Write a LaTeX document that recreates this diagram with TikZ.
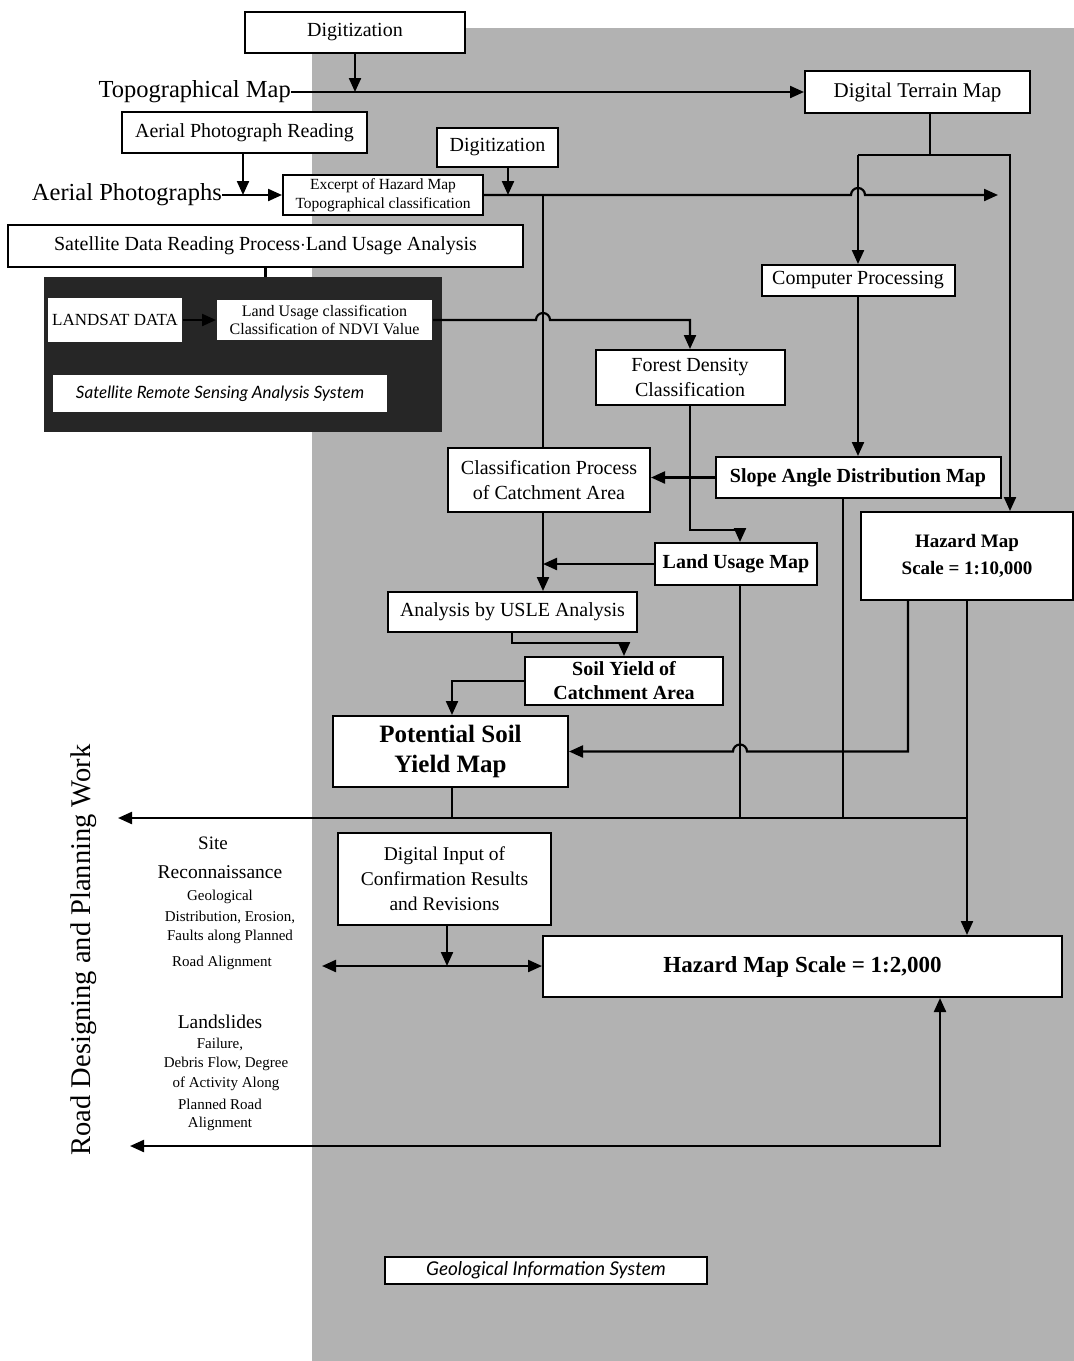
\documentclass[tikz,border=0pt]{standalone}
\usepackage{fontspec}
\setmainfont{Liberation Serif}
\newfontfamily\sansit{Lato}
\usetikzlibrary{arrows.meta}
\newcommand\fsz[2]{\fontsize{#1pt}{#2pt}\selectfont}
\begin{document}
\begin{tikzpicture}[x=1pt,y=-1pt,
  box/.style={draw, fill=white, line width=2pt, align=center, inner sep=1pt},
  ln/.style={line width=2.2pt},
  arr/.style={line width=2.2pt, -{Triangle[length=14pt,width=12pt]}},
  arrb/.style={line width=2.2pt, {Triangle[length=14pt,width=12pt]}-{Triangle[length=14pt,width=12pt]}},
  arrs/.style={line width=2.2pt, {Triangle[length=14pt,width=12pt]}-},
  lbl/.style={inner sep=0pt, align=center}]
\useasboundingbox (0,0) rectangle (1074,1361);
\fill[white] (0,0) rectangle (1074,1361);
% gray GIS background
\fill[black!30] (312,28) rectangle (1074,1361);
% black satellite system box
\fill[black!85] (44,277) rectangle (442,432);

% nodes
\node[box, minimum width=220pt, minimum height=41pt, font=\fsz{20}{24}] (dig1) at (355,32.5) {Digitization};
\node[lbl, anchor=east, font=\fsz{24.5}{28}] (topo) at (291,92) {Topographical Map};
\node[box, minimum width=225pt, minimum height=42pt, font=\fsz{21}{24}] (dtm) at (917.5,92) {Digital Terrain Map};
\node[box, minimum width=245pt, minimum height=41pt, font=\fsz{20}{24}] (apr) at (244.5,132.5) {Aerial Photograph Reading};
\node[lbl, anchor=east, font=\fsz{24.5}{28}] (aph) at (222,195) {Aerial Photographs};
\node[box, minimum width=200pt, minimum height=40pt, font=\fsz{15.5}{18.5}] (exc) at (383,195) {Excerpt of Hazard Map\\Topographical classification};
\node[box, minimum width=121pt, minimum height=39pt, font=\fsz{20}{24}] (dig2) at (497.5,147.5) {Digitization};
\node[box, minimum width=515pt, minimum height=42pt, font=\fsz{20}{24}] (sat) at (265.5,246) {Satellite Data Reading Process$\cdot$Land Usage Analysis};
\node[box, draw=none, minimum width=134pt, minimum height=44pt, font=\fsz{17}{20}] (landsat) at (115,320) {LANDSAT DATA};
\node[box, draw=none, minimum width=215pt, minimum height=40pt, font=\fsz{16}{18}] (luc) at (324.5,320) {Land Usage classification\\Classification of NDVI Value};
\node[box, draw=none, minimum width=334pt, minimum height=37pt, font=\sansit\itshape\fsz{17}{20}] (srs) at (220,393.5) {Satellite Remote Sensing Analysis System};
\node[box, minimum width=193pt, minimum height=31pt, font=\fsz{20}{24}] (cp) at (858,280.5) {Computer Processing};
\node[box, minimum width=189pt, minimum height=55pt, font=\fsz{20}{25}] (fdc) at (690,377.5) {Forest Density\\Classification};
\node[box, minimum width=202pt, minimum height=64pt, font=\fsz{20}{25}] (cpc) at (549,480) {Classification Process\\of Catchment Area};
\node[box, minimum width=285pt, minimum height=41pt, font=\fsz{20}{24}\bfseries] (sadm) at (858,477.5) {Slope Angle Distribution Map};
\node[box, minimum width=162pt, minimum height=42pt, font=\fsz{20}{24}\bfseries] (lum) at (736,564) {Land Usage Map};
\node[box, minimum width=249pt, minimum height=40pt, font=\fsz{20}{24}] (usle) at (512.5,612) {Analysis by USLE Analysis};
\node[box, minimum width=198pt, minimum height=48pt, font=\fsz{20}{24}\bfseries] (sy) at (624,681) {Soil Yield of\\Catchment Area};
\node[box, minimum width=235pt, minimum height=71pt, font=\fsz{25}{30}\bfseries] (psy) at (450.5,751.5) {Potential Soil\\Yield Map};
\node[box, minimum width=212pt, minimum height=88pt, font=\fsz{19}{27}\bfseries] (hm10) at (967,556) {Hazard Map\\Scale = 1:10,000};
\node[box, minimum width=213pt, minimum height=92pt, font=\fsz{19.5}{25}] (dicr) at (444.5,879) {Digital Input of\\Confirmation Results\\and Revisions};
\node[box, minimum width=519pt, minimum height=61pt, font=\fsz{23}{26}\bfseries] (hm2) at (802.5,966.5) {Hazard Map Scale = 1:2,000};
\node[box, line width=1.4pt, minimum width=322pt, minimum height=27pt, font=\sansit\itshape\fsz{19}{22}] (gis) at (546,1270.5) {Geological Information System};

% left labels
\node[lbl, font=\fsz{19}{22}] (s1) at (213,843) {Site};
\node[lbl, font=\fsz{19.5}{22}] (s2) at (220,872) {Reconnaissance};
\node[lbl, font=\fsz{15}{18}] (s3) at (220,897) {Geological};
\node[lbl, font=\fsz{15}{18}] (s4) at (230,917) {Distribution, Erosion,};
\node[lbl, font=\fsz{15}{18}] (s5) at (230,937) {Faults along Planned};
\node[lbl, font=\fsz{15}{18}] (s6) at (222,963) {Road Alignment};
\node[lbl, font=\fsz{19.5}{22}] (l1) at (220,1022) {Landslides};
\node[lbl, font=\fsz{15}{18}] (l2) at (220,1044) {Failure,};
\node[lbl, font=\fsz{15}{18}] (l3) at (226,1064) {Debris Flow, Degree};
\node[lbl, font=\fsz{15}{18}] (l4) at (226,1084) {of Activity Along};
\node[lbl, font=\fsz{15}{18}] (l5) at (220,1104) {Planned Road};
\node[lbl, font=\fsz{15}{18}] (l6) at (220,1124) {Alignment};
\node[lbl, rotate=90, font=\fsz{28.5}{32}] (road) at (84,950) {Road Designing and Planning Work};

% named free ends and bends
\coordinate (b1) at (930,155);
\coordinate (v1) at (543,195);
\coordinate (e1) at (998,195);
\coordinate (r1) at (1010,155);
\coordinate (bl) at (967,818);
\coordinate (bl0) at (118,818);
\coordinate (da) at (322,966);
\coordinate (bb) at (940,1146);
\coordinate (bb0) at (130,1146);
\coordinate (fk) at (690,530);
\coordinate (lk) at (740,530);
\coordinate (lb) at (740,818);
\coordinate (sb) at (843,818);
\coordinate (pb) at (452,818);
\coordinate (pk) at (452,681);
\coordinate (u1) at (512,643);
\coordinate (u2) at (624,643);
\coordinate (hk) at (908,751.5);
\coordinate (hh) at (733,751.5);
\coordinate (st) at (265.5,277);

% connectors
\draw[arr] (topo.east) -- (dtm.west);
\draw[arr] (dig1.south) -- (dig1.south |- dtm.west);
\draw[arr] (aph.east) -- (exc.west);
\draw[arr] ([xshift=-1.5pt]apr.south) -- ([xshift=-1.5pt]apr.south |- exc.west);
\draw[arr] ([xshift=10.5pt]dig2.south) -- ([xshift=10.5pt]dig2.south |- exc.east);
\draw[arr] (exc.east) -- ([xshift=-7pt]cp.north |- exc.east) arc[start angle=180,end angle=0,radius=7pt] -- (e1);
\draw[ln] (dtm.south -| b1) -- (b1);
\draw[arr] (cp.north |- b1) -- (cp.north);
\draw[arr] (cp.north |- b1) -- (r1) -- (r1 |- hm10.north);
\draw[ln] (sat.south) -- (st);
\draw[arr] (landsat.east) -- (luc.west);
\draw[arr] (luc.east) -- ([xshift=-7pt]v1 |- luc.east) arc[start angle=180,end angle=0,radius=7pt] -- (fdc.north |- luc.east) -- (fdc.north);
\draw[ln] (v1) -- (v1 |- cpc.north);
\draw[arr] (cp.south) -- (cp.south |- sadm.north);
\draw[arr] (sadm.west) -- (cpc.east |- sadm.west);
\draw[arr] (fdc.south) -- (fk) -- (lk) -- (lk |- lum.north);
\draw[arr] (v1 |- cpc.south) -- (v1 |- usle.north);
\draw[arr] (lum.west) -- (v1 |- lum.west);
\draw[arr] (u1 |- usle.south) -- (u1) -- (u2) -- (sy.north);
\draw[arr] (sy.west) -- (pk) -- (pk |- psy.north);
\draw[arrs] (psy.east) -- (hh) arc[start angle=180,end angle=0,radius=7pt] -- (hk) -- (hk |- hm10.south);
\draw[ln] (lb |- lum.south) -- (lb);
\draw[ln] (sb |- sadm.south) -- (sb);
\draw[ln] (pb |- psy.south) -- (pb);
\draw[arr] (bl) -- (bl0);
\draw[arr] (bl |- hm10.south) -- (bl |- hm2.north);
\draw[arr] ([xshift=2.5pt]dicr.south) -- ([xshift=2.5pt]dicr.south |- da);
\draw[arrb] (da) -- (hm2.west |- da);
\draw[arrb] (bb0) -- (bb) -- (bb |- hm2.south);
\end{tikzpicture}
\end{document}
